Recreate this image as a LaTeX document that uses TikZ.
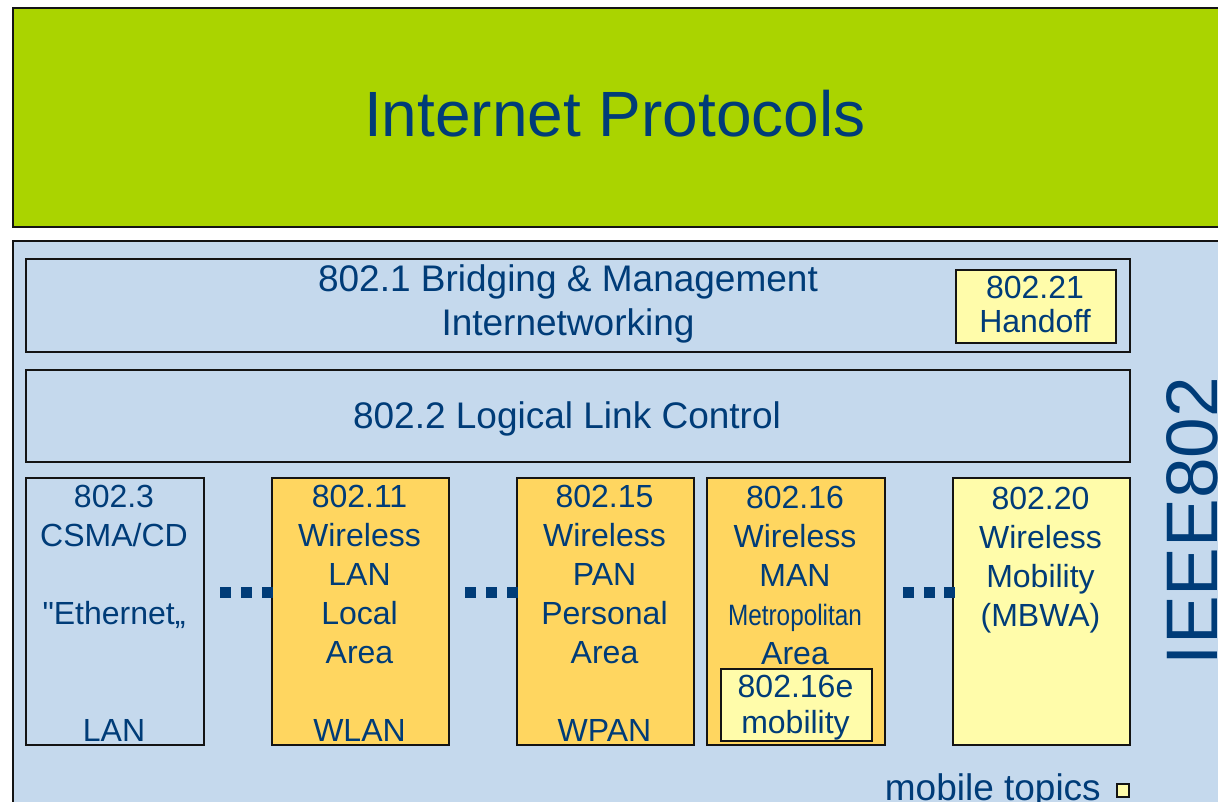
\documentclass[tikz,border=0pt]{standalone}
\usepackage{fontspec}
\setmainfont{Liberation Sans}[Ligatures=TeXOff]
\usepackage{graphicx}
\definecolor{txt}{RGB}{0,60,120}
\definecolor{grn}{RGB}{170,212,0}
\definecolor{lblue}{RGB}{197,217,237}
\definecolor{orng}{RGB}{255,214,96}
\definecolor{lyel}{RGB}{255,252,170}
\definecolor{edge}{RGB}{20,20,20}
\tikzset{
  box/.style={draw=edge, line width=1.8pt, inner sep=0pt, anchor=north west},
  lbl/.style={text=txt, align=center, inner sep=0pt, anchor=base, font=\fontsize{32}{39}\selectfont},
  toplbl/.style={lbl, font=\fontsize{37}{44}\selectfont},
  dotsq/.style={fill=txt},
}
\begin{document}
\begin{tikzpicture}[x=1pt,y=-1pt]
\useasboundingbox (0,0) rectangle (1218,802);
\clip (0,0) rectangle (1218,802);
\fill[white] (0,0) rectangle (1218,802);
% Internet protocols
\node[box, fill=grn, minimum width=1220pt, minimum height=219pt] (inet) at (12,7) {};
\node[lbl, font=\fontsize{64}{70}\selectfont] (inettxt) at (615,137) {Internet Protocols};
% IEEE 802 area
\node[box, fill=lblue, minimum width=1220pt, minimum height=580pt] (ieee) at (12,240) {};
\node[lbl, rotate=90, font=\fontsize{73}{80}\selectfont] (ieeetxt) at (1217,521) {IEEE802};
% 802.1
\node[box, fill=lblue, minimum width=1104pt, minimum height=93pt] (b1) at (25,258) {};
\node[toplbl] (t1) at (568,335) {802.1 Bridging \& Management\\Internetworking};
\node[box, fill=lyel, minimum width=160pt, minimum height=73pt] (b21) at (955,269) {};
\node[lbl, font=\fontsize{32}{35}\selectfont] (t21) at (1035,333) {802.21\\Handoff};
% 802.2
\node[box, fill=lblue, minimum width=1104pt, minimum height=92pt] (b2) at (25,369) {};
\node[toplbl] (t2) at (567,428) {802.2 Logical Link Control};
% lower boxes
\node[box, fill=lblue, minimum width=178pt, minimum height=267pt] (b3) at (25,477) {};
\node[lbl] (t3) at (114,741) {802.3\\CSMA/CD\\~\\"Ethernet„\\~\\~\\LAN};
\node[box, fill=orng, minimum width=177pt, minimum height=267pt] (b11) at (271,477) {};
\node[lbl] (t11) at (359.5,741) {802.11\\Wireless\\LAN\\Local\\Area\\~\\WLAN};
\node[box, fill=orng, minimum width=177pt, minimum height=267pt] (b15) at (516,477) {};
\node[lbl] (t15) at (604.5,741) {802.15\\Wireless\\PAN\\Personal\\Area\\~\\WPAN};
\node[box, fill=orng, minimum width=178pt, minimum height=267pt] (b16) at (706,477) {};
\node[lbl] (t16) at (795,664) {802.16\\Wireless\\MAN\\\scalebox{0.76}[0.92]{Metropolitan}\\Area};
\node[box, fill=lyel, minimum width=151pt, minimum height=72pt] (b16e) at (720,668) {};
\node[lbl, font=\fontsize{32}{36}\selectfont] (t16e) at (795.5,733) {802.16e\\mobility};
\node[box, fill=lyel, minimum width=177pt, minimum height=267pt] (b20) at (952,477) {};
\node[lbl] (t20) at (1040.5,626) {802.20\\Wireless\\Mobility\\(MBWA)};
% dots
\foreach \gx/\gs in {220/21,465/21,903/20.5}{
  \foreach \k in {0,1,2}{
    \fill[dotsq] (\gx+\gs*\k,586.5) rectangle ++(11,11);
  }
}
% legend
\node[lbl, font=\fontsize{37}{44}\selectfont, anchor=base east] (mob) at (1101,800) {mobile topics};
\node[box, fill=lyel, line width=1.5pt, minimum width=12pt, minimum height=13pt] (mobsq) at (1116,783) {};
\end{tikzpicture}
\end{document}
